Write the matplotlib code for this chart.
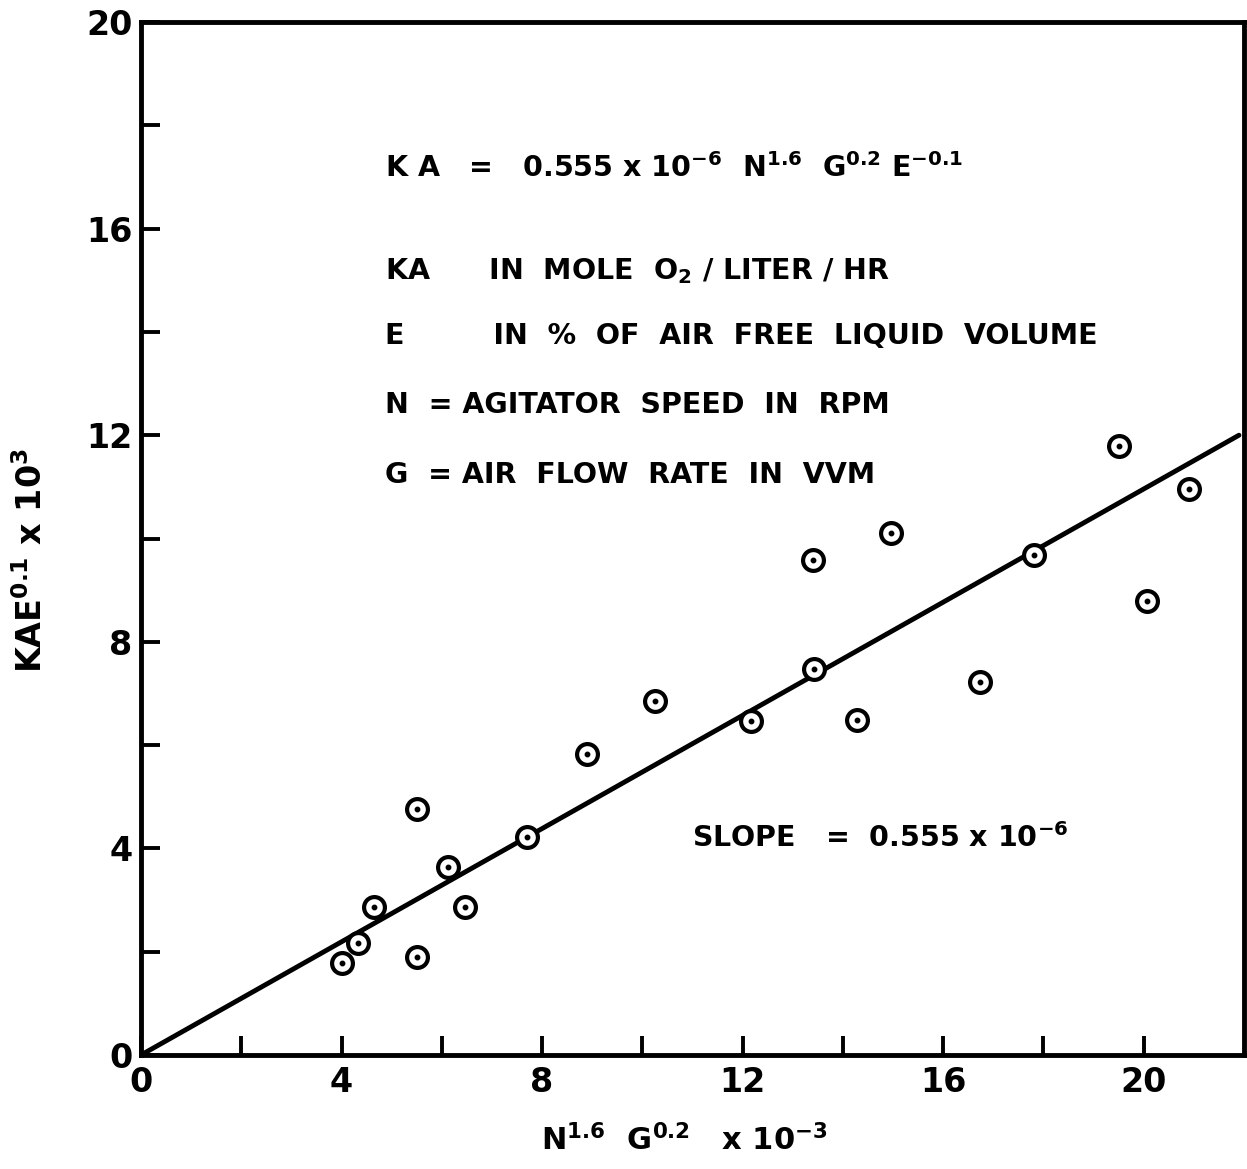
import matplotlib
matplotlib.use("Agg")
import matplotlib.pyplot as plt

# data
x_vals = [4.01, 4.33, 4.65, 5.51, 5.51, 6.13, 6.47, 7.70, 8.90, 10.26,
          12.16, 13.43, 13.41, 14.29, 14.95, 16.73, 17.82, 19.50, 20.06, 20.90]
y_vals = [1.78, 2.17, 2.87, 1.90, 4.76, 3.64, 2.87, 4.22, 5.83, 6.85,
          6.47, 7.47, 9.58, 6.49, 10.11, 7.22, 9.68, 11.79, 8.79, 10.96]
fit_x = [0.0, 21.9]
fit_y = [0.0, 12.0]
x_ticks = [0, 4, 8, 12, 16, 20]
y_ticks = [0, 4, 8, 12, 16, 20]
x_minor = [2, 6, 10, 14, 18]
y_minor = [2, 6, 10, 14, 18]

plt.rcParams['font.family'] = ['DejaVu Sans']
plt.rcParams['font.weight'] = 'bold'
plt.rcParams['axes.labelweight'] = 'bold'
plt.rcParams['mathtext.fontset'] = 'custom'
plt.rcParams['mathtext.rm'] = 'DejaVu Sans:bold'
plt.rcParams['mathtext.it'] = 'DejaVu Sans:bold'
plt.rcParams['mathtext.bf'] = 'DejaVu Sans:bold'
plt.rcParams['mathtext.default'] = 'regular'

fig = plt.figure(figsize=(12.47, 11.69), dpi=100)
ax = fig.add_axes([141/1247, 1 - 1055/1169, (1244-141)/1247, (1055-22)/1169])
ax.set_xlim(0, 22)
ax.set_ylim(0, 20)

ax.plot(fit_x, fit_y, color='black', lw=3.5, solid_capstyle='round', zorder=2)
ax.plot(x_vals, y_vals, linestyle='none', marker='o', markersize=15,
        markerfacecolor='white', markeredgecolor='black', markeredgewidth=3, zorder=3)
ax.plot(x_vals, y_vals, linestyle='none', marker='o', markersize=3.2,
        markerfacecolor='black', markeredgecolor='black', zorder=4)

for s in ax.spines.values():
    s.set_linewidth(3.5)

ax.set_xticks(x_ticks)
ax.set_yticks(y_ticks)
ax.set_xticks(x_minor, minor=True)
ax.set_yticks(y_minor, minor=True)
ax.set_xticklabels([str(t) for t in x_ticks])
ax.set_yticklabels([str(t) for t in y_ticks])
ax.tick_params(which='both', direction='in', length=14, width=2.8,
               top=False, right=False)
ax.tick_params(axis='x', which='major', labelsize=24, pad=8)
ax.tick_params(axis='y', which='major', labelsize=24, pad=6)

ax.set_xlabel(r"N$^{1.6}$  G$^{0.2}$   x 10$^{-3}$", fontsize=22)
ax.set_ylabel(r"KAE$^{0.1}$ x 10$^{3}$", fontsize=24)
ax.xaxis.set_label_coords((684-141)/1103, -(1140-1055)/1033)
ax.yaxis.set_label_coords(-(141-32)/1103, (1055-560)/1033)
ax.xaxis.label.set_va('center')
ax.yaxis.label.set_va('center')

def tx(px, py, s, size=20.5):
    fig.text(px/1247, 1 - py/1169, s, fontsize=size, ha='left',
             va='center', fontweight='bold')

tx(385, 168, r"K A   =   0.555 x 10$^{-6}$  N$^{1.6}$  G$^{0.2}$ E$^{-0.1}$")
tx(385, 271, r"KA      IN  MOLE  O$_{2}$ / LITER / HR")
tx(385, 336, r"E         IN  %  OF  AIR  FREE  LIQUID  VOLUME")
tx(385, 405, r"N  = AGITATOR  SPEED  IN  RPM")
tx(385, 475, r"G  = AIR  FLOW  RATE  IN  VVM")
tx(692, 838, r"SLOPE   =  0.555 x 10$^{-6}$")

fig.savefig("out.png", dpi=100)
